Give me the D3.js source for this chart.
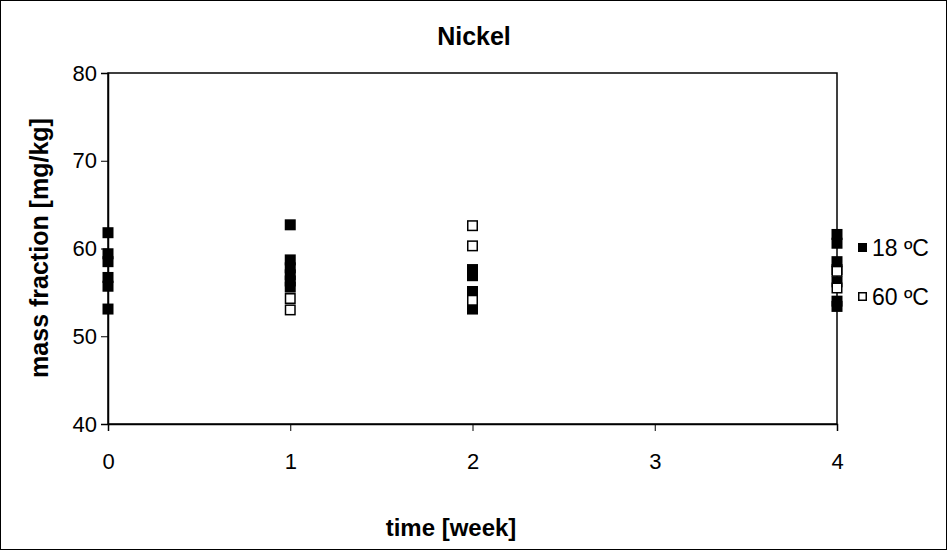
<!DOCTYPE html>
<html>
<head>
<meta charset="utf-8">
<script src="https://cdn.jsdelivr.net/npm/d3@7"></script>
<style>
  body { margin: 0; background: #fff; }
  svg { display: block; font-family: "Liberation Sans", Arial, sans-serif; }
</style>
</head>
<body>
<svg id="chart"></svg>
<script>
const width = 947;
const height = 550;

// data
const weeks = [0, 1, 2, 3, 4];
const yTicks = [40, 50, 60, 70, 80];

const temp18 = [
  [0, 61.8], [0, 59.4], [0, 58.5], [0, 56.7], [0, 55.7], [0, 53.1],
  [1, 62.7], [1, 58.7], [1, 57.8], [1, 57.0], [1, 56.3], [1, 55.6],
  [2, 57.6], [2, 56.9], [2, 55.1], [2, 54.6], [2, 53.1],
  [4, 61.6], [4, 60.6], [4, 58.5], [4, 57.6], [4, 56.2], [4, 54.0], [4, 53.4]
];
const temp60 = [
  [1, 54.3], [1, 53.0],
  [2, 62.6], [2, 60.3], [2, 54.1],
  [4, 57.4], [4, 55.5]
];

const margin = { left: 108, right: 110, top: 73, bottom: 126 };

const svg = d3.select("#chart").attr("width", width).attr("height", height);

svg.append("rect")
  .attr("x", 0.5).attr("y", 0.5)
  .attr("width", width - 1).attr("height", height - 1)
  .attr("fill", "#fff").attr("stroke", "#000");

const x = d3.scaleLinear().domain([0, 4]).range([margin.left, width - margin.right]);
const y = d3.scaleLinear().domain([40, 80]).range([height - margin.bottom, margin.top]);

// plot frame
svg.append("rect")
  .attr("x", x(0)).attr("y", y(80))
  .attr("width", x(4) - x(0)).attr("height", y(40) - y(80))
  .attr("fill", "none").attr("stroke", "#000").attr("stroke-width", 1.5);

const yAxis = svg.append("g")
  .attr("transform", `translate(${x(0)},0)`)
  .call(d3.axisLeft(y).tickValues(yTicks).tickSize(7).tickPadding(4));
const xAxis = svg.append("g")
  .attr("transform", `translate(0,${y(40)})`)
  .call(d3.axisBottom(x).tickValues(weeks).tickFormat(d3.format("d")).tickSize(7).tickPadding(22));

[yAxis, xAxis].forEach(g => {
  g.attr("font-size", 22).attr("font-family", "Liberation Sans, Arial, sans-serif");
  g.select(".domain").attr("stroke", "#000").attr("stroke-width", 1.5);
  g.selectAll(".tick line").attr("stroke", "#000");
  g.selectAll("text").attr("fill", "#000");
});

// title and axis titles
svg.append("text")
  .attr("x", 474).attr("y", 45)
  .attr("text-anchor", "middle").attr("font-size", 25).attr("font-weight", "bold")
  .text("Nickel");

svg.append("text")
  .attr("x", 451).attr("y", 536)
  .attr("text-anchor", "middle").attr("font-size", 24).attr("font-weight", "bold")
  .text("time [week]");

svg.append("text")
  .attr("transform", "translate(48,248) rotate(-90)")
  .attr("text-anchor", "middle").attr("font-size", 25).attr("font-weight", "bold")
  .text("mass fraction [mg/kg]");

// markers
const s = 11;
svg.append("g").selectAll("rect")
  .data(temp18)
  .join("rect")
  .attr("x", d => x(d[0]) - s / 2)
  .attr("y", d => y(d[1]) - s / 2)
  .attr("width", s).attr("height", s)
  .attr("fill", "#000");

svg.append("g").selectAll("rect")
  .data(temp60)
  .join("rect")
  .attr("x", d => x(d[0]) - s / 2 + 0.75)
  .attr("y", d => y(d[1]) - s / 2 + 0.75)
  .attr("width", s - 1.5).attr("height", s - 1.5)
  .attr("fill", "#fff").attr("stroke", "#000").attr("stroke-width", 1.5);

// legend
const legend = svg.append("g").attr("font-size", 23);
legend.append("rect")
  .attr("x", 858).attr("y", 243).attr("width", 9).attr("height", 9).attr("fill", "#000");
legend.append("text")
  .attr("x", 872).attr("y", 256).text("18 ºC");
legend.append("rect")
  .attr("x", 858.75).attr("y", 292.75).attr("width", 7.5).attr("height", 7.5)
  .attr("fill", "#fff").attr("stroke", "#000").attr("stroke-width", 1.5);
legend.append("text")
  .attr("x", 872).attr("y", 305).text("60 ºC");
</script>
</body>
</html>
